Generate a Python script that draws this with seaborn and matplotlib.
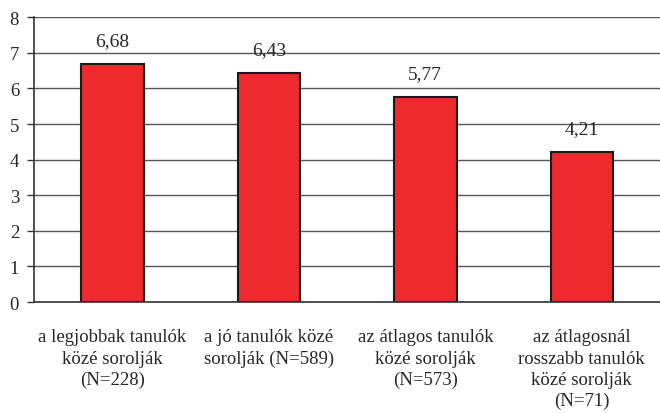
import numpy as np
import pandas as pd
import matplotlib
matplotlib.use("Agg")
import matplotlib.pyplot as plt
import seaborn as sns

categories = [
    "a legjobbak tanulók\nközé sorolják\n(N=228)",
    "a jó tanulók közé\nsorolják (N=589)",
    "az átlagos tanulók\nközé sorolják\n(N=573)",
    "az átlagosnál\nrosszabb tanulók\nközé sorolják\n(N=71)",
]
values = [6.68, 6.43, 5.77, 4.21]
value_labels = ["6,68", "6,43", "5,77", "4,21"]
yticks = [0, 1, 2, 3, 4, 5, 6, 7, 8]

sns.set_style("white")
plt.rcParams["font.family"] = ["Liberation Serif", "DejaVu Serif"]

df = pd.DataFrame({"cat": categories, "val": values})

fig = plt.figure(figsize=(6.6, 4.14), dpi=100)
ax = fig.add_axes([0.052, 0.268, 0.948, 0.688])
ax.set_axisbelow(True)
ax.yaxis.grid(True, color="#555555", linewidth=1.0)

sns.barplot(data=df, x="cat", y="val", ax=ax, color="#ee2a2e",
            edgecolor="#1a1a1a", linewidth=1.5, width=0.4, saturation=1)

# value labels above each bar
for i, (v, lab) in enumerate(zip(values, value_labels)):
    ax.text(i, v + 0.42, lab, ha="center", va="bottom", fontsize=14)

ax.set_xlim(-0.5, 3.5)
ax.set_ylim(0, 8)
ax.set_yticks(yticks)
ax.set_yticklabels([str(t) for t in yticks], fontsize=13.5)
ax.set_xticks(range(len(categories)))
ax.set_xticklabels(categories, fontsize=13.5, linespacing=1.32, va="top")
ax.set_xticks(np.arange(-0.5, 3.6, 1.0), minor=True)
ax.tick_params(axis="x", which="major", length=0, pad=19)
ax.tick_params(axis="x", which="minor", length=6, width=1, color="#333333", direction="out")
ax.tick_params(axis="y", length=5, width=1, color="#333333", direction="out", left=True, pad=6)
ax.set_xlabel("")
ax.set_ylabel("")

for side in ["top", "right"]:
    ax.spines[side].set_visible(False)
for side in ["left", "bottom"]:
    ax.spines[side].set_color("#333333")
    ax.spines[side].set_linewidth(1.2)

fig.savefig("out.png", dpi=100)
